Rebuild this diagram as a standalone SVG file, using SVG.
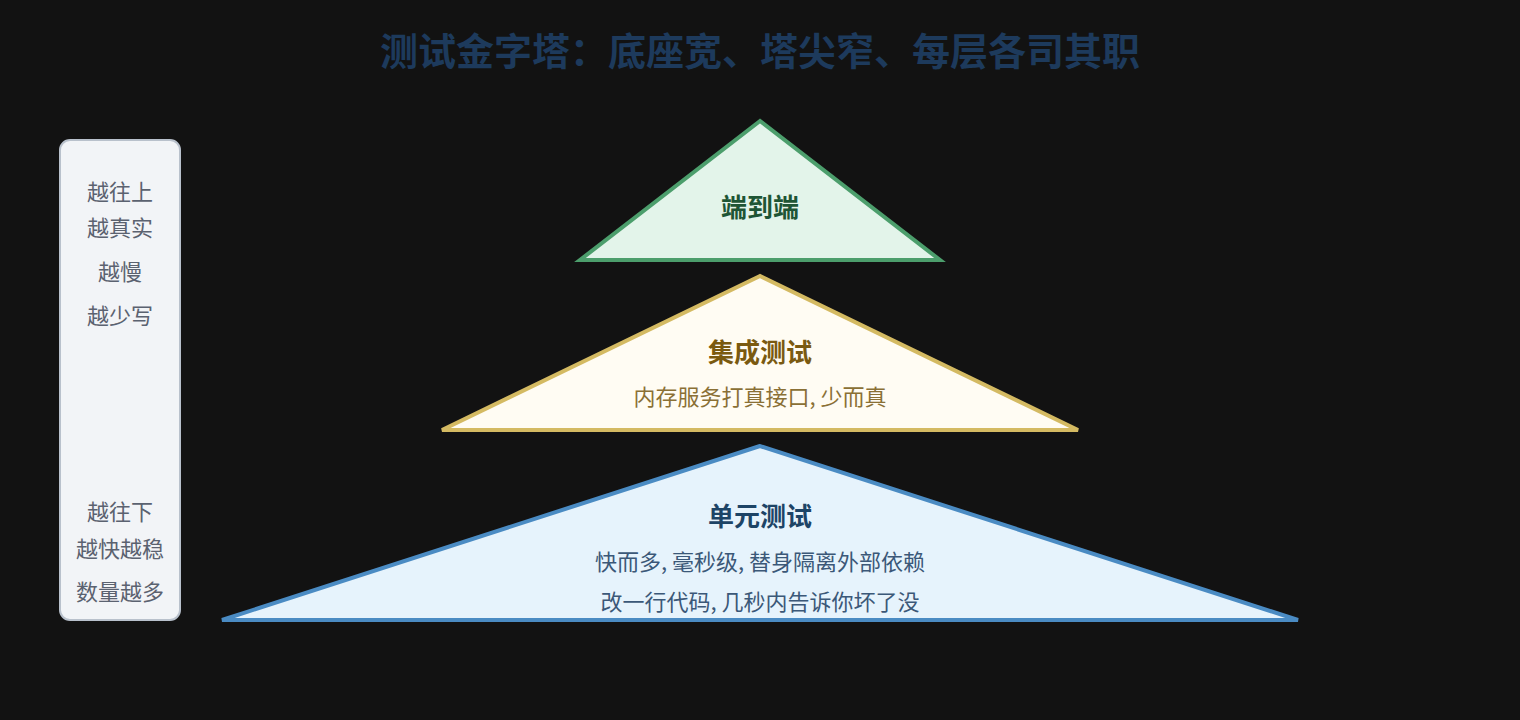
<svg xmlns="http://www.w3.org/2000/svg" width="1520" height="720" viewBox="0 0 1520 720">
<style>
text{font-family:"Noto Sans CJK SC","Noto Sans",sans-serif;text-anchor:middle}
.title{font-size:38px;font-weight:bold;fill:#1d3a5c}
.side{font-size:22px;fill:#5b6270}
.h{font-size:26px;font-weight:bold}
.d{font-size:22px}
</style>
<rect width="1520" height="720" fill="#121212"/>
<text class="title" x="760" y="65">测试金字塔：底座宽、塔尖窄、每层各司其职</text>
<g id="legend">
<rect x="60" y="140" width="120" height="480" rx="10" fill="#f2f4f7" stroke="#b9c1cc" stroke-width="2"/>
<text class="side" x="120" y="200">越往上</text>
<text class="side" x="120" y="236">越真实</text>
<text class="side" x="120" y="280">越慢</text>
<text class="side" x="120" y="324">越少写</text>
<text class="side" x="120" y="520">越往下</text>
<text class="side" x="120" y="557">越快越稳</text>
<text class="side" x="120" y="600">数量越多</text>
</g>
<g id="e2e">
<polygon points="760,121 580,260 940,260" fill="#e3f4ea" stroke="#4c9e6c" stroke-width="4" stroke-linejoin="miter"/>
<text class="h" x="760" y="217" fill="#1e5535">端到端</text>
</g>
<g id="integration">
<polygon points="760,276 442,430 1078,430" fill="#fffcf3" stroke="#d4ba62" stroke-width="4"/>
<text class="h" x="760" y="362" fill="#7a5a10">集成测试</text>
<text class="d" x="760" y="405" fill="#8a7035">内存服务打真接口, 少而真</text>
</g>
<g id="unit">
<polygon points="760,446 222,620 1298,620" fill="#e6f3fc" stroke="#4a8bc3" stroke-width="4"/>
<text class="h" x="760" y="526" font-size="28" fill="#1d4466">单元测试</text>
<text class="d" x="760" y="570" fill="#3b5878">快而多, 毫秒级, 替身隔离外部依赖</text>
<text class="d" x="760" y="610" fill="#3b5878">改一行代码, 几秒内告诉你坏了没</text>
</g>
<g id="connectors"></g>
</svg>
